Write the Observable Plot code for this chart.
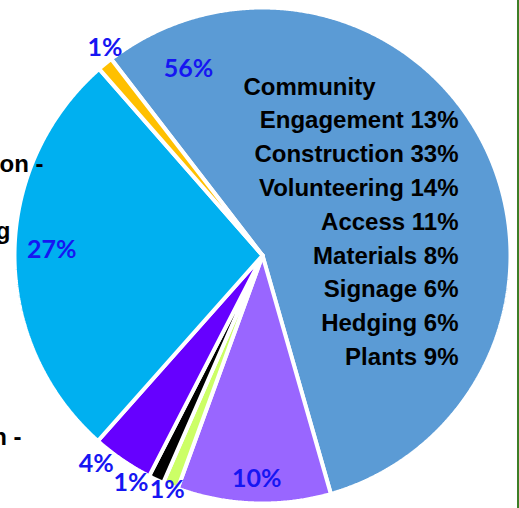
<!DOCTYPE html>
<html><head><meta charset="utf-8">
<script src="https://cdn.jsdelivr.net/npm/d3@7"></script>
<script src="https://cdn.jsdelivr.net/npm/@observablehq/plot@0.6"></script>
<style>
html,body{margin:0;padding:0;background:#fff;}
#chart{width:519px;height:508px;position:relative;overflow:hidden;}
#chart::after{content:"";position:absolute;right:0;top:0;width:2px;height:100%;background:#3d7e26;}
#chart svg{display:block;}
</style></head><body><div id="chart"></div>
<script>
// ---- data ----
const sliceValues = [56, 10, 1, 1, 4, 27, 1];
const sliceLabels = ["56%", "10%", "1%", "1%", "4%", "27%", "1%"];
const sliceColors = ["#5b9bd5", "#9966ff", "#ccff66", "#000000", "#6600ff", "#00b0f0", "#ffc000"];
const categories = ["Community Engagement", "Construction", "Volunteering", "Access", "Materials", "Signage", "Hedging", "Plants"];
const categoryShares = [13, 33, 14, 11, 8, 6, 6, 9];
const cutLabels = ["on -", "g", "n -"];

// ---- layout ----
const W = 519, H = 508, cx = 262, cy = 255, R = 248;
const startDeg = -37.6;
const labelPlacement = [[338.4, 0.81], [181.5, 0.90], [202.1, 1.02], [210, 1.06], [218.6, 1.075], [271.4, 0.85], [322.8, 1.05]];
const cutLabelPos = [[43, 171], [10, 238], [21, 444]];
const blockRight = 458, blockLeft = 243, firstBaseline = 94, lineGap = 33.8;

const rad = d => d * Math.PI / 180;
const arcs = d3.pie().sort(null).startAngle(rad(startDeg)).endAngle(rad(startDeg) + 2 * Math.PI)(sliceValues);

const slicePaths = arcs.map((a, i) => {
  const pts = [{x: cx, y: cy}];
  const n = Math.max(2, Math.ceil((a.endAngle - a.startAngle) / 0.005));
  for (let k = 0; k <= n; k++) {
    const t = a.startAngle + (a.endAngle - a.startAngle) * k / n;
    pts.push({x: cx + R * Math.sin(t), y: cy - R * Math.cos(t)});
  }
  pts.push({x: cx, y: cy});
  return {pts, color: sliceColors[i]};
});

const pctLabels = sliceLabels.map((t, i) => {
  const [deg, f] = labelPlacement[i];
  return {text: t, x: cx + f * R * Math.sin(rad(deg)), y: cy - f * R * Math.cos(rad(deg))};
});

const lines = categories.map((c, i) => `${c} ${categoryShares[i]}%`);
const firstWord = lines[0].split(" ")[0];
const restLines = [lines[0].slice(firstWord.length + 1), ...lines.slice(1)];
const blockRows = restLines.map((t, i) => ({text: t, x: blockRight, y: firstBaseline + (i + 1) * lineGap}));
const headRow = [{text: firstWord, x: blockLeft, y: firstBaseline}];
const cutRows = cutLabels.map((t, i) => ({text: t, x: cutLabelPos[i][0], y: cutLabelPos[i][1]}));

const bold = {fontWeight: "bold", fontFamily: "Liberation Sans, Arial, sans-serif", fontSize: 24, fill: "#000", lineAnchor: "bottom"};

const chart = Plot.plot({
  width: W, height: H, margin: 0,
  x: {type: "identity"}, y: {type: "identity"},
  axis: null,
  marks: [
    ...slicePaths.map(s => Plot.line(s.pts, {x: "x", y: "y", fill: s.color, stroke: "white", strokeWidth: 4, strokeLinejoin: "miter", curve: "linear"})),
    Plot.text(pctLabels, {x: "x", y: "y", text: "text", fill: "#1616f2", fontSize: 25, fontWeight: "bold", fontFamily: "Lato, sans-serif"}),
    Plot.text(blockRows, {x: "x", y: "y", text: "text", textAnchor: "end", ...bold}),
    Plot.text(headRow, {x: "x", y: "y", text: "text", textAnchor: "start", ...bold}),
    Plot.text(cutRows, {x: "x", y: "y", text: "text", textAnchor: "end", ...bold})
  ]
});
document.getElementById("chart").appendChild(chart);
</script></body></html>
